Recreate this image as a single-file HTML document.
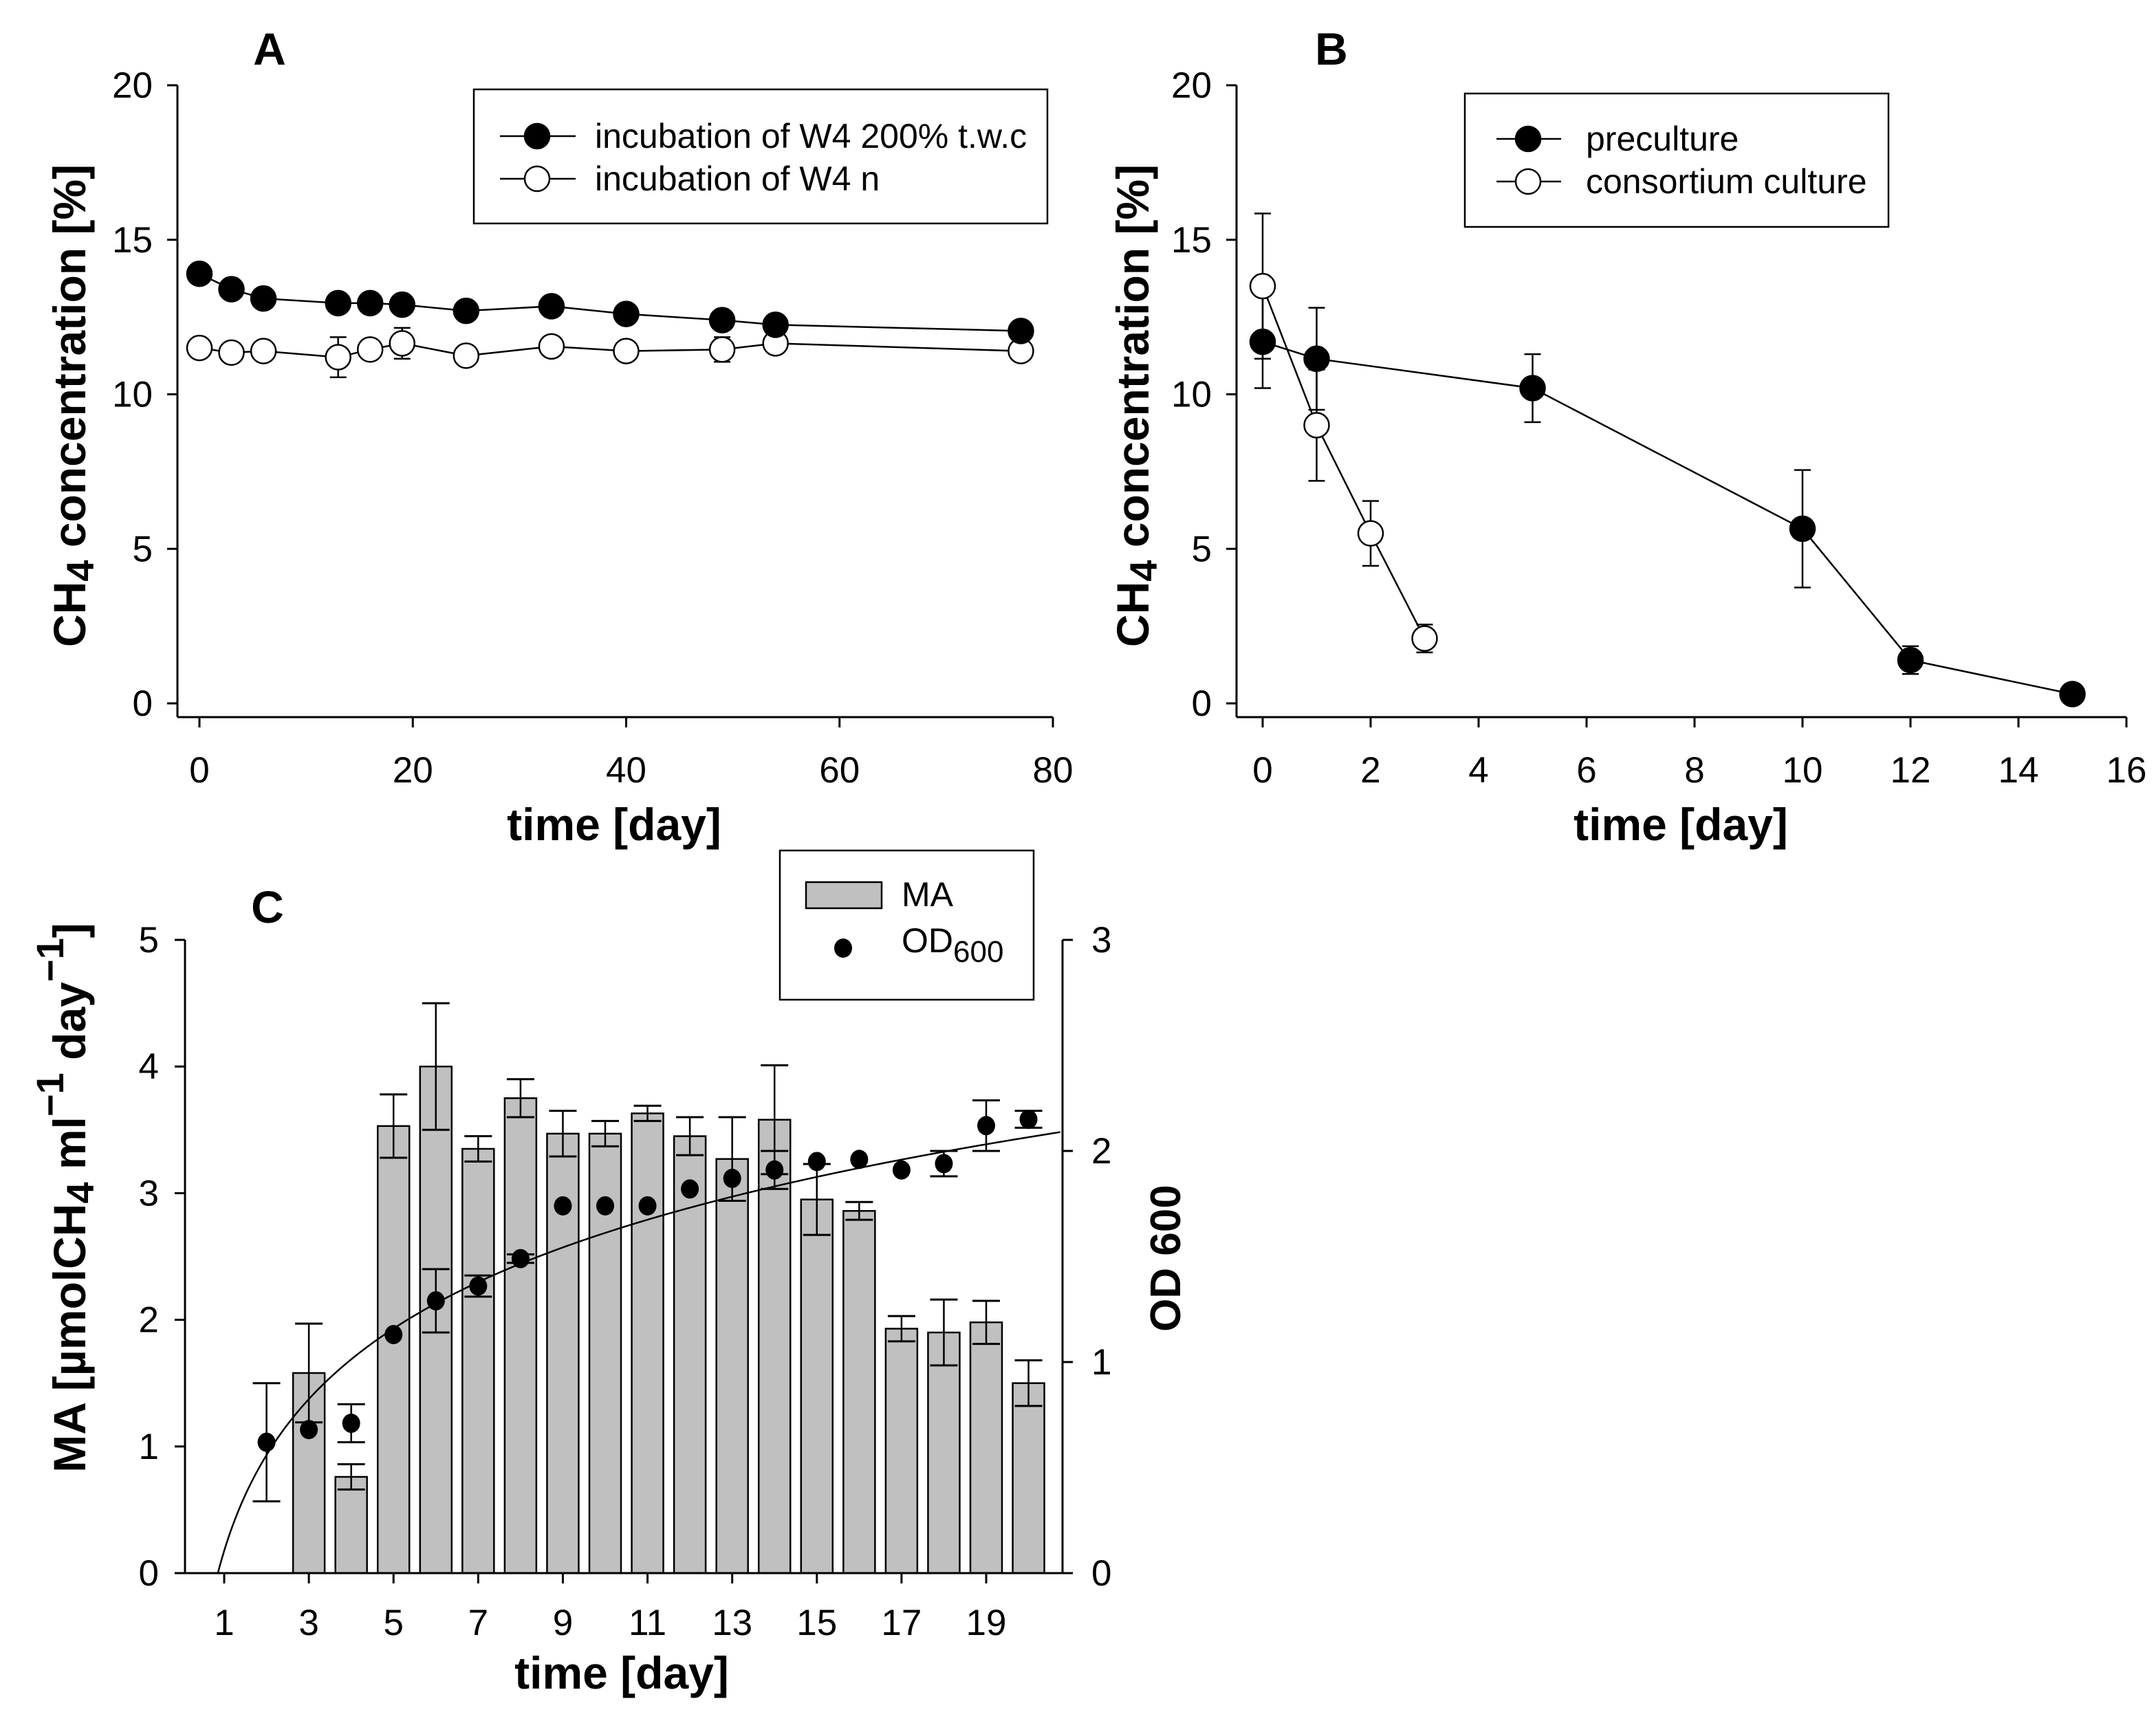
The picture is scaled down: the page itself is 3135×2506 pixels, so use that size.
<!DOCTYPE html>
<html><head><meta charset="utf-8"><style>
html,body{margin:0;padding:0;background:#fff}
svg{display:block}
.t{font-family:"Liberation Sans Narrow","Liberation Sans",sans-serif;font-size:53px;fill:#000}
.b{font-family:"Liberation Sans",sans-serif;font-weight:bold;fill:#000}
</style></head><body>
<svg id="s" width="3135" height="2506" viewBox="0 0 3135 2506" xmlns="http://www.w3.org/2000/svg">
<g id="A"></g>
<g id="B"></g>
<g id="C"></g>
</svg>
<script>
// Panel A data
const aDaysFilled=[0,3,6,13,16,19,25,33,40,49,54,77];
const aFilled=[13.9,13.4,13.1,12.95,12.95,12.9,12.7,12.85,12.6,12.4,12.25,12.05];
const aFilledErr=[0,0,0,0,0,0,0,0,0,0,0,0];
const aDaysOpen=[0,3,6,13,16,19,25,33,40,49,54,77];
const aOpen=[11.5,11.35,11.4,11.2,11.45,11.65,11.25,11.55,11.4,11.45,11.65,11.4];
const aOpenErr=[0,0,0,0.65,0,0.5,0,0,0.3,0.4,0,0];
const aXTicks=[0,20,40,60,80];
const yTicks=[0,5,10,15,20];
// Panel B data
const bDaysFilled=[0,1,5,10,12,15];
const bFilled=[11.7,11.15,10.2,5.65,1.4,0.3];
const bFilledErr=[1.5,1.65,1.1,1.9,0.45,0];
const bDaysOpen=[0,1,2,3];
const bOpen=[13.5,9.0,5.5,2.1];
const bOpenErr=[2.35,1.8,1.05,0.45];
const bXTicks=[0,2,4,6,8,10,12,14,16];
// Panel C data
const cBarDays=[3,4,5,6,7,8,9,10,11,12,13,14,15,16,17,18,19,20];
const cMA=[1.58,0.76,3.53,4.0,3.35,3.75,3.47,3.47,3.63,3.45,3.27,3.58,2.95,2.86,1.93,1.9,1.98,1.5];
const cMAErr=[0.39,0.1,0.25,0.5,0.1,0.15,0.18,0.1,0.06,0.15,0.33,0.43,0.28,0.07,0.1,0.26,0.17,0.18];
const cODDays=[2,3,4,5,6,7,8,9,10,11,12,13,14,15,16,17,18,19,20];
const cOD=[0.62,0.68,0.71,1.13,1.29,1.36,1.49,1.74,1.74,1.74,1.82,1.87,1.91,1.95,1.96,1.91,1.94,2.12,2.15];
const cODErr=[0.28,0,0.09,0,0.15,0.05,0.02,0,0,0,0,0,0.09,0,0,0,0.06,0.12,0.04];
const cXTicks=[1,3,5,7,9,11,13,15,17,19];
const cYTicks=[0,1,2,3,4,5];
const cY2Ticks=[0,1,2,3];
const fitA=0.106, fitB=0.654;

const NS="http://www.w3.org/2000/svg";
function mk(p,tag,at,txt){const e=document.createElementNS(NS,tag);for(const k in at)e.setAttribute(k,at[k]);if(txt!==undefined)e.textContent=txt;p.appendChild(e);return e;}
function lin(d0,d1,r0,r1){return v=>r0+(v-d0)*(r1-r0)/(d1-d0);}

function lineChart(g,xs,ys,xTicks,p){
  let e=mk(g,'line',{x1:p.sx,y1:p.top,x2:p.sx,y2:p.by,stroke:'#000','stroke-width':3});
  
  e=mk(g,'line',{x1:p.sx,y1:p.by,x2:p.rx,y2:p.by,stroke:'#000','stroke-width':3});
  
  yTicks.forEach(v=>{const y=ys(v);mk(g,'line',{x1:p.sx-15,y1:y,x2:p.sx,y2:y,stroke:'#000','stroke-width':3});
    const t=mk(g,'text',{x:p.sx-36,y:y+18,'text-anchor':'end',class:'t'},v);
    });
  xTicks.forEach(v=>{const x=xs(v);mk(g,'line',{x1:x,y1:p.by,x2:x,y2:p.by+15,stroke:'#000','stroke-width':3});
    const t=mk(g,'text',{x:x,y:1138,'text-anchor':'middle',class:'t'},v);
    });
  let t=mk(g,'text',{x:p.xtx,y:1222,'text-anchor':'middle',class:'b','font-size':66},'time [day]');
  
  t=mk(g,'text',{transform:`translate(${p.ytx},590) rotate(-90)`,'text-anchor':'middle',class:'b','font-size':66});
  
  mk(t,'tspan',{},'CH');mk(t,'tspan',{dy:12,'font-size':56},'4');mk(t,'tspan',{dy:-12},' concentration  [%]');
}
function series(g,xs,ys,days,vals,errs,fill,name){
  const pts=days.map((d,i)=>xs(d)+','+ys(vals[i])).join(' ');
  let e=mk(g,'polyline',{points:pts,fill:'none',stroke:'#000','stroke-width':2.5});
  
  days.forEach((d,i)=>{const x=xs(d);if(errs[i]>0){const y1=ys(vals[i]+errs[i]),y2=ys(vals[i]-errs[i]);
    mk(g,'line',{x1:x,y1:y1,x2:x,y2:y2,stroke:'#000','stroke-width':2.5});
    mk(g,'line',{x1:x-12,y1:y1,x2:x+12,y2:y1,stroke:'#000','stroke-width':2.5});
    mk(g,'line',{x1:x-12,y1:y2,x2:x+12,y2:y2,stroke:'#000','stroke-width':2.5});}});
  days.forEach((d,i)=>{const c=mk(g,'circle',{cx:xs(d),cy:ys(vals[i]),r:18,fill:fill,stroke:'#000','stroke-width':2.5});
    });
}
function legend(g,x,y,w,h,items,lx1,lx2,mx,tx){
  const lg=mk(g,'g',{});
  mk(lg,'rect',{x:x,y:y,width:w,height:h,fill:'#fff',stroke:'#000','stroke-width':2.5});
  items.forEach(it=>{const ge=mk(lg,'g',{});
    mk(ge,'line',{x1:lx1,y1:it.y,x2:lx2,y2:it.y,stroke:'#000','stroke-width':2.5});
    mk(ge,'circle',{cx:mx,cy:it.y,r:18,fill:it.f,stroke:'#000','stroke-width':2.5});
    mk(ge,'text',{x:tx,y:it.y+17,class:'t',style:'font-size:50px'},it.t);});
}

// Panel A
(function(){const g=document.getElementById('A');
  const xs=lin(0,80,290,1531), ys=lin(0,20,1023,124);
  let t=mk(g,'text',{x:392,y:94,'text-anchor':'middle',class:'b','font-size':66},'A');
  
  lineChart(g,xs,ys,aXTicks,{sx:258,rx:1531,top:124,by:1043,xtx:893,ytx:124});
  series(g,xs,ys,aDaysOpen,aOpen,aOpenErr,'#fff','w4-n');
  series(g,xs,ys,aDaysFilled,aFilled,aFilledErr,'#000','w4-200');
  legend(g,689,130,834,195,[{y:198,f:'#000',t:'incubation of W4 200% t.w.c'},{y:260,f:'#fff',t:'incubation of W4 n'}],727,837,781,865);
})();
// Panel B
(function(){const g=document.getElementById('B');
  const xs=lin(0,16,1836,3092), ys=lin(0,20,1023,124);
  let t=mk(g,'text',{x:1936,y:94,'text-anchor':'middle',class:'b','font-size':66},'B');
  
  lineChart(g,xs,ys,bXTicks,{sx:1798,rx:3092,top:124,by:1043,xtx:2444,ytx:1670});
  series(g,xs,ys,bDaysFilled,bFilled,bFilledErr,'#000','preculture');
  series(g,xs,ys,bDaysOpen,bOpen,bOpenErr,'#fff','consortium');
  legend(g,2130,136,616,194,[{y:202,f:'#000',t:'preculture'},{y:264,f:'#fff',t:'consortium culture'}],2176,2270,2222,2306);
})();
// Panel C
(function(){const g=document.getElementById('C');
  const xs=lin(1,19,326,1434), ys=lin(0,5,2288,1367), ys2=lin(0,3,2288,1367);
  const L=269,R=1545,B=2288,T=1367;
  let t=mk(g,'text',{x:389,y:1342,'text-anchor':'middle',class:'b','font-size':66},'C');
  
  const bw=46;
  cBarDays.forEach((d,i)=>{const x=xs(d),y=ys(cMA[i]);
    const r=mk(g,'rect',{x:x-bw/2,y:y,width:bw,height:B-y,fill:'#c0c0c0',stroke:'#000','stroke-width':2.5});
    
    const y1=ys(cMA[i]+cMAErr[i]),y2=ys(cMA[i]-cMAErr[i]);
    mk(g,'line',{x1:x,y1:y1,x2:x,y2:y2,stroke:'#000','stroke-width':2.5});
    mk(g,'line',{x1:x-20,y1:y1,x2:x+20,y2:y1,stroke:'#000','stroke-width':3});
    mk(g,'line',{x1:x-20,y1:y2,x2:x+20,y2:y2,stroke:'#000','stroke-width':3});});
  let pts=[];for(let d=0.85;d<=20.79;d+=0.05){pts.push(xs(d)+','+ys2(fitA+fitB*Math.log(d)));}
  let c=mk(g,'polyline',{points:pts.join(' '),fill:'none',stroke:'#000','stroke-width':2.5});
  
  cODDays.forEach((d,i)=>{const x=xs(d);
    if(cODErr[i]>0){const y1=ys2(cOD[i]+cODErr[i]),y2=ys2(cOD[i]-cODErr[i]);
      mk(g,'line',{x1:x,y1:y1,x2:x,y2:y2,stroke:'#000','stroke-width':2.5});
      mk(g,'line',{x1:x-20,y1:y1,x2:x+20,y2:y1,stroke:'#000','stroke-width':3});
      mk(g,'line',{x1:x-20,y1:y2,x2:x+20,y2:y2,stroke:'#000','stroke-width':3});}
    const p=mk(g,'ellipse',{cx:x,cy:ys2(cOD[i]),rx:13,ry:14,fill:'#000'});
    });
  let e=mk(g,'line',{x1:L,y1:T,x2:L,y2:B,stroke:'#000','stroke-width':3});
  e=mk(g,'line',{x1:R,y1:T,x2:R,y2:B,stroke:'#000','stroke-width':3});
  e=mk(g,'line',{x1:L,y1:B,x2:R,y2:B,stroke:'#000','stroke-width':3});
  cYTicks.forEach(v=>{const y=ys(v);mk(g,'line',{x1:L-15,y1:y,x2:L,y2:y,stroke:'#000','stroke-width':3});
    const tt=mk(g,'text',{x:L-38,y:y+18,'text-anchor':'end',class:'t'},v);});
  cY2Ticks.forEach(v=>{const y=ys2(v);mk(g,'line',{x1:R,y1:y,x2:R+15,y2:y,stroke:'#000','stroke-width':3});
    const tt=mk(g,'text',{x:R+42,y:y+18,class:'t'},v);});
  cXTicks.forEach(v=>{const x=xs(v);mk(g,'line',{x1:x,y1:B,x2:x,y2:B+15,stroke:'#000','stroke-width':3});
    const tt=mk(g,'text',{x:x,y:2378,'text-anchor':'middle',class:'t'},v);});
  t=mk(g,'text',{x:904,y:2456,'text-anchor':'middle',class:'b','font-size':66},'time [day]');
  
  t=mk(g,'text',{transform:'translate(124,1742) rotate(-90)','text-anchor':'middle',class:'b','font-size':66});
  
  mk(t,'tspan',{},'MA [µmolCH');mk(t,'tspan',{dy:12,'font-size':56},'4');mk(t,'tspan',{dy:-12},' ml');
  mk(t,'tspan',{dy:-32,'font-size':56},'−1');mk(t,'tspan',{dy:32},' day');mk(t,'tspan',{dy:-32,'font-size':56},'−1');mk(t,'tspan',{dy:32},']');
  t=mk(g,'text',{transform:'translate(1716,1830) rotate(-90)','text-anchor':'middle',class:'b','font-size':62},'OD 600');
  
  const lg=mk(g,'g',{});
  mk(lg,'rect',{x:1134,y:1237,width:369,height:217,fill:'#fff',stroke:'#000','stroke-width':2.5});
  let le=mk(lg,'g',{});
  mk(le,'rect',{x:1172,y:1283,width:110,height:38,fill:'#c0c0c0',stroke:'#000','stroke-width':2.5});
  mk(le,'text',{x:1311,y:1318,class:'t',style:'font-size:50px'},'MA');
  le=mk(lg,'g',{});
  mk(le,'ellipse',{cx:1226,cy:1379,rx:13,ry:14,fill:'#000'});
  const ot=mk(le,'text',{x:1311,y:1385,class:'t',style:'font-size:50px'});mk(ot,'tspan',{},'OD');mk(ot,'tspan',{dy:14,'font-size':44},'600');
})();
</script>
</body></html>
